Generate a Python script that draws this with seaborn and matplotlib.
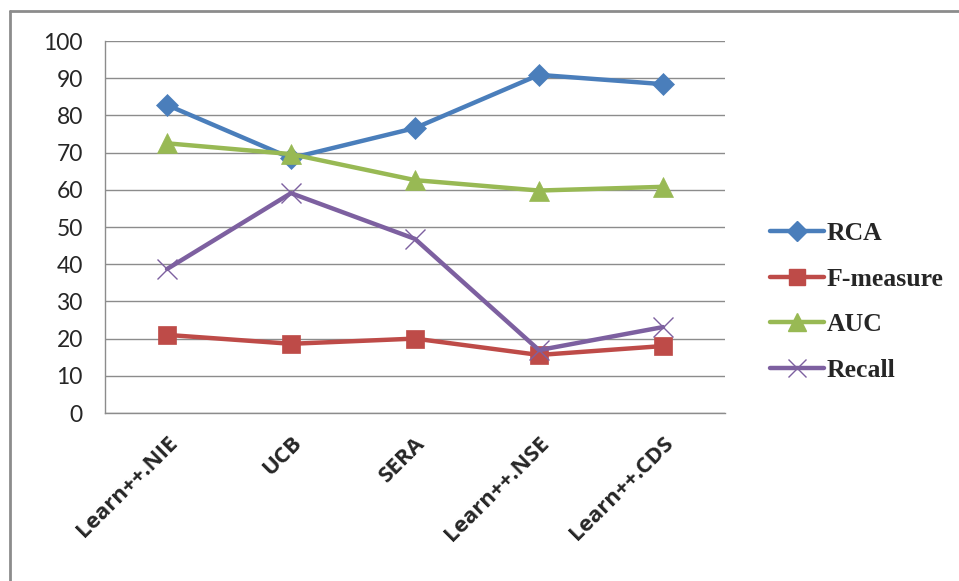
import matplotlib
matplotlib.use("Agg")
import matplotlib.pyplot as plt
import seaborn as sns
import pandas as pd
from matplotlib.lines import Line2D

methods = ["Learn++.NIE", "UCB", "SERA", "Learn++.NSE", "Learn++.CDS"]
rca = [82.8, 68.5, 76.6, 90.9, 88.4]
f_measure = [21.0, 18.6, 20.0, 15.6, 18.0]
auc = [72.5, 69.6, 62.6, 59.8, 60.8]
recall = [38.7, 59.1, 46.8, 16.9, 23.1]

series = {"RCA": rca, "F-measure": f_measure, "AUC": auc, "Recall": recall}
colors = {"RCA": "#4A7EBB", "F-measure": "#BE4B48", "AUC": "#98B954", "Recall": "#7D60A0"}
markers = {"RCA": "D", "F-measure": "s", "AUC": "^", "Recall": "x"}
msizes = {"RCA": 11, "F-measure": 13, "AUC": 14, "Recall": 14}

rows = []
for name, vals in series.items():
    for i, v in enumerate(vals):
        rows.append({"pos": i, "method": methods[i], "value": v, "series": name})
df = pd.DataFrame(rows)

sns.set_theme(style="white")
fig = plt.figure(figsize=(9.59, 5.81), dpi=100)
ax = fig.add_axes([105 / 959, 1 - 413 / 581, 620 / 959, 372 / 581])

for name in series:
    sub = df[df["series"] == name]
    sns.lineplot(ax=ax, data=sub, x="pos", y="value", color=colors[name],
                 linewidth=3.2, marker=markers[name], markersize=msizes[name],
                 markeredgecolor=colors[name],
                 markeredgewidth=1.0 if name == "Recall" else 0.5, label=name, legend=False)

ax.set_xlim(-0.5, len(methods) - 0.5)
ax.set_ylim(0, 100)
ax.set_yticks(range(0, 101, 10))
ax.yaxis.grid(True, color="#8c8c8c", linewidth=1)
ax.set_axisbelow(True)
ax.set_xlabel("")
ax.set_ylabel("")

ax.set_xticks([i - 0.5 for i in range(len(methods) + 1)])
ax.set_xticklabels([])
ax.set_xticks(range(len(methods)), minor=True)
ax.set_xticklabels(methods, minor=True, rotation=45, ha="right", rotation_mode="anchor",
                   fontsize=16, fontweight="bold", family="Open Sans")
ax.tick_params(axis="x", which="major", direction="out", length=8, color="#8c8c8c", width=1)
ax.tick_params(axis="x", which="minor", length=0, pad=14)
ax.tick_params(axis="y", direction="out", length=8, color="#8c8c8c", width=1,
               labelsize=16.5, pad=8)
for lbl in ax.get_yticklabels():
    lbl.set_family("Lato")

for side in ["top", "right"]:
    ax.spines[side].set_visible(False)
for side in ["left", "bottom"]:
    ax.spines[side].set_color("#8c8c8c")
    ax.spines[side].set_linewidth(1)

handles = [Line2D([0], [0], color=colors[n], linewidth=3.2, marker=markers[n],
                  markersize=msizes[n] - 1, markeredgecolor=colors[n]) for n in series]
fig.legend(handles, list(series.keys()), loc="center left",
           bbox_to_anchor=(747 / 959, 1 - 302 / 581), frameon=False,
           prop={"family": "Liberation Serif", "weight": "bold", "size": 18.5},
           handlelength=2.1, handletextpad=0.1, labelspacing=0.88)

# outer chart frame (top and left edges visible)
fig.add_artist(Line2D([10 / 959, 1], [1 - 11 / 581, 1 - 11 / 581],
                      transform=fig.transFigure, color="#8c8c8c", linewidth=2))
fig.add_artist(Line2D([10 / 959, 10 / 959], [0, 1 - 11 / 581],
                      transform=fig.transFigure, color="#8c8c8c", linewidth=2))

fig.savefig("out.png", dpi=100)
